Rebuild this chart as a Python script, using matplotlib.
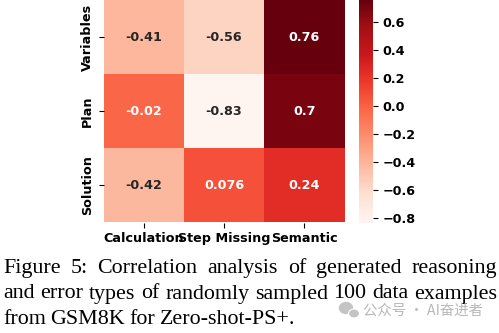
import matplotlib
matplotlib.use('Agg')
import matplotlib.pyplot as plt
import numpy as np
import seaborn as sns
from matplotlib.patches import Ellipse

rows = ['Variables', 'Plan', 'Solution']
cols = ['Calculation', 'Step Missing', 'Semantic']
corr = np.array([[-0.41, -0.56, 0.76],
                 [-0.02, -0.83, 0.7],
                 [-0.42, 0.076, 0.24]])
cbar_ticks = [-0.8, -0.6, -0.4, -0.2, 0.0, 0.2, 0.4, 0.6]

caption = ['Figure 5: Correlation analysis of generated reasoning',
           'and error types of randomly sampled 100 data examples',
           'from GSM8K for Zero-shot-PS+.']
watermark = '公众号 · AI奋进者'

fs = 9.2

fig = plt.figure(figsize=(4.99, 3.33), dpi=100)
ax = fig.add_axes([103.5 / 499, 1 - 222.5 / 333, 241 / 499, 222.5 / 333])
cax = fig.add_axes([359 / 499, 1 - 222.5 / 333, 14 / 499, 222.5 / 333])

sns.heatmap(corr, cmap='Reds', annot=True, fmt='.2g', ax=ax, cbar_ax=cax,
            xticklabels=cols, yticklabels=rows,
            annot_kws={'fontsize': fs, 'fontweight': 'bold'})

ax.set_xticklabels(cols, rotation=0, fontsize=fs, fontweight='bold')
ax.set_yticklabels(rows, rotation=90, va='center', fontsize=fs, fontweight='bold')
cax.set_yticks(cbar_ticks)
cax.tick_params(labelsize=fs)
for lab in cax.get_yticklabels():
    lab.set_fontweight('bold')

# caption below the chart, justified like the paper
renderer = fig.canvas.get_renderer()
left, right = 3, 497
y0 = 273
cap_fs = 15.8
for i, line in enumerate(caption):
    y = 1 - (y0 + i * 25.5) / 333
    words = line.split(' ')
    texts = [fig.text(0, y, w, family='Liberation Serif', fontsize=cap_fs,
                      va='baseline', ha='left') for w in words]
    widths = [t.get_window_extent(renderer).width for t in texts]
    if i < len(caption) - 1:
        gap = (right - left - sum(widths)) / (len(words) - 1)
    else:
        gap = 4.5
    x = left
    for t, w in zip(texts, widths):
        t.set_x(x / 499)
        x += w + gap

# watermark
fig.text(363 / 499, 1 - 311 / 333, watermark, family=['Noto Sans CJK SC', 'DejaVu Sans'],
         fontsize=10.4, color='#b8b8b8', va='center', ha='left')
fig.patches.append(Ellipse((346 / 499, 1 - 308 / 333), 13 / 499, 11 / 333,
                           transform=fig.transFigure, color='#c4c4c4'))
fig.patches.append(Ellipse((354 / 499, 1 - 313.5 / 333), 11 / 499, 9 / 333,
                           transform=fig.transFigure, fc='#c4c4c4', ec='white', lw=0.8))

fig.savefig('out.png', dpi=100)
